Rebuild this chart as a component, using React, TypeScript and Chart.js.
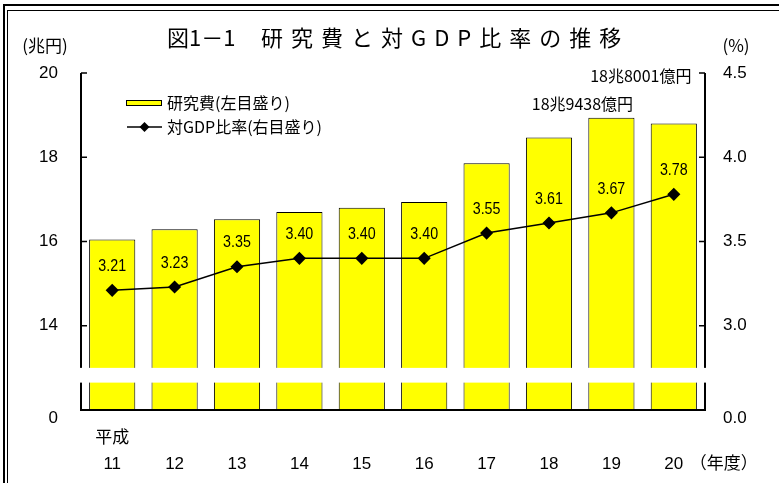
import React, { useEffect, useRef } from 'react';
import { Chart, registerables } from 'chart.js';

Chart.register(...registerables);

// ---- data ----
const categories = ['11', '12', '13', '14', '15', '16', '17', '18', '19', '20'];
const researchCost = [16.05, 16.29, 16.53, 16.7, 16.8, 16.94, 17.86, 18.47, 18.94, 18.8];
const gdpRatio = [3.21, 3.23, 3.35, 3.4, 3.4, 3.4, 3.55, 3.61, 3.67, 3.78];
const leftTicks = [12, 14, 16, 18, 20];
const leftTickLabels = ['0', '14', '16', '18', '20'];
const rightTicks = [2.5, 3.0, 3.5, 4.0, 4.5];
const rightTickLabels = ['0.0', '3.0', '3.5', '4.0', '4.5'];
const breakRange = [12.65, 13.0];
const barLabel = '研究費(左目盛り)';
const lineLabel = '対GDP比率(右目盛り)';
const titleHead = '図1－1';
const titleBody = '研究費と対GDP比率の推移';
const leftUnit = '(兆円)';
const rightUnit = '(%)';
const eraLabel = '平成';
const yearUnit = '（年度）';
const note19 = '18兆9438億円';
const note20 = '18兆8001億円';

const NUM_FONT = "'Liberation Sans', Arial, 'Noto Sans CJK JP', sans-serif";
const JP_FONT = "'Noto Sans CJK JP', 'Noto Sans', sans-serif";

const overlay = {
  id: 'overlay',
  afterDraw(chart: any) {
    const ctx = chart.ctx as CanvasRenderingContext2D;
    const { left, right, top, bottom } = chart.chartArea;
    const yS = chart.scales.y;
    const y1S = chart.scales.y1;
    const xS = chart.scales.x;
    ctx.save();

    // axes lines
    ctx.strokeStyle = '#000';
    ctx.lineWidth = 2;
    ctx.beginPath();
    ctx.moveTo(left, top);
    ctx.lineTo(left, bottom);
    ctx.moveTo(right, top);
    ctx.lineTo(right, bottom);
    ctx.moveTo(left - 1, bottom);
    ctx.lineTo(right + 1, bottom);
    ctx.stroke();

    // inward ticks
    ctx.lineWidth = 1.5;
    ctx.beginPath();
    leftTicks.slice(1).forEach((v) => {
      const p = yS.getPixelForValue(v);
      ctx.moveTo(left, p);
      ctx.lineTo(left + 6, p);
    });
    rightTicks.slice(1).forEach((v) => {
      const p = y1S.getPixelForValue(v);
      ctx.moveTo(right, p);
      ctx.lineTo(right - 6, p);
    });
    ctx.stroke();

    // axis break band
    const bt = yS.getPixelForValue(breakRange[1]);
    const bb = yS.getPixelForValue(breakRange[0]);
    ctx.fillStyle = '#fff';
    ctx.fillRect(left - 4, bt, right - left + 8, bb - bt);

    // value labels above the line points
    const lineMeta = chart.getDatasetMeta(1);
    ctx.fillStyle = '#000';
    ctx.font = `17px ${NUM_FONT}`;
    ctx.textAlign = 'center';
    ctx.textBaseline = 'middle';
    lineMeta.data.forEach((pt: any, i: number) => {
      ctx.save();
      ctx.translate(pt.x, pt.y - 24);
      ctx.scale(0.84, 1);
      ctx.fillText(gdpRatio[i].toFixed(2), 0, 0);
      ctx.restore();
    });

    // notes above bars 19 and 20
    const barMeta = chart.getDatasetMeta(0);
    const b19 = barMeta.data[8];
    const b20 = barMeta.data[9];
    ctx.font = `16px ${JP_FONT}`;
    ctx.textAlign = 'center';
    ctx.fillText(note19, b19.x - 29, b19.y - 14);
    ctx.fillText(note20, b20.x - 33, b20.y - 48);

    // era label and year unit
    ctx.font = `17px ${JP_FONT}`;
    ctx.fillText(eraLabel, xS.getPixelForValue(0), 437);
    ctx.textAlign = 'left';
    ctx.font = `17px ${JP_FONT}`;
    ctx.fillText(yearUnit, xS.getPixelForValue(9) + 16, 463);

    // units
    ctx.textAlign = 'center';
    ctx.font = `17px ${JP_FONT}`;
    ctx.fillText(leftUnit, 45, 46);
    ctx.fillText(rightUnit, 736, 46);

    // title
    ctx.font = `22px ${JP_FONT}`;
    ctx.textAlign = 'left';
    ctx.fillText(titleHead, 167, 38);
    (ctx as any).letterSpacing = '8px';
    ctx.fillText(titleBody, 261, 38);
    (ctx as any).letterSpacing = '0px';

    // legend
    ctx.fillStyle = '#FFFF00';
    ctx.fillRect(126, 100, 36, 6);
    ctx.strokeStyle = '#000';
    ctx.lineWidth = 1;
    ctx.strokeRect(126.5, 100.5, 35, 5);
    ctx.beginPath();
    ctx.lineWidth = 1.5;
    ctx.moveTo(127, 127);
    ctx.lineTo(162, 127);
    ctx.stroke();
    ctx.fillStyle = '#000';
    ctx.beginPath();
    ctx.moveTo(144.5, 122);
    ctx.lineTo(149.5, 127);
    ctx.lineTo(144.5, 132);
    ctx.lineTo(139.5, 127);
    ctx.closePath();
    ctx.fill();
    ctx.font = `16px ${JP_FONT}`;
    ctx.textAlign = 'left';
    ctx.fillText(barLabel, 167, 103);
    ctx.fillText(lineLabel, 167, 127);

    // double frame
    ctx.strokeStyle = '#000';
    ctx.lineWidth = 2;
    ctx.strokeRect(4, 5, 1000, 1000);
    ctx.lineWidth = 1;
    ctx.strokeRect(7.5, 10.5, 1000, 1000);

    ctx.restore();
  },
};

export default function App() {
  const ref = useRef<HTMLCanvasElement>(null);
  useEffect(() => {
    if (!ref.current) return;
    const chart = new Chart(ref.current, {
      type: 'bar',
      data: {
        labels: categories,
        datasets: [
          {
            type: 'bar',
            label: barLabel,
            data: researchCost,
            yAxisID: 'y',
            backgroundColor: '#FFFF00',
            borderColor: '#000',
            borderWidth: 1,
            barPercentage: 0.74,
            categoryPercentage: 1,
            order: 1,
          } as any,
          {
            type: 'line',
            label: lineLabel,
            data: gdpRatio,
            yAxisID: 'y1',
            borderColor: '#000',
            borderWidth: 1.5,
            pointStyle: 'rectRot',
            pointRadius: 5.5,
            pointBackgroundColor: '#000',
            pointBorderColor: '#000',
            tension: 0,
            order: 0,
          } as any,
        ],
      },
      options: {
        responsive: false,
        animation: false,
        devicePixelRatio: 1,
        layout: { padding: { top: 73, left: 0, right: 0, bottom: 0 } },
        plugins: {
          legend: { display: false },
          title: { display: false },
          tooltip: { enabled: false },
        },
        scales: {
          x: {
            grid: { display: false },
            border: { display: false },
            ticks: {
              color: '#000',
              font: { family: NUM_FONT, size: 17, lineHeight: 26 / 17 },
              padding: 7,
              maxRotation: 0,
              autoSkip: false,
              callback: (_v: any, i: number) => ['', categories[i]],
            },
            afterFit: (s: any) => {
              s.height = 73;
            },
          },
          y: {
            position: 'left',
            min: leftTicks[0],
            max: leftTicks[leftTicks.length - 1],
            grid: { display: false, drawTicks: false },
            border: { display: false },
            afterBuildTicks: (s: any) => {
              s.ticks = leftTicks.map((v) => ({ value: v }));
            },
            ticks: {
              color: '#000',
              font: { family: NUM_FONT, size: 17, lineHeight: 16 / 17 },
              padding: 23,
              callback: (v: any) => {
                const i = leftTicks.indexOf(v);
                return i === 0 ? ['', leftTickLabels[i]] : leftTickLabels[i];
              },
            },
            afterFit: (s: any) => {
              s.width = 81;
            },
          },
          y1: {
            position: 'right',
            min: rightTicks[0],
            max: rightTicks[rightTicks.length - 1],
            grid: { display: false, drawTicks: false },
            border: { display: false },
            afterBuildTicks: (s: any) => {
              s.ticks = rightTicks.map((v) => ({ value: v }));
            },
            ticks: {
              color: '#000',
              font: { family: NUM_FONT, size: 17, lineHeight: 16 / 17 },
              padding: 18,
              callback: (v: any) => {
                const i = rightTicks.findIndex((t) => Math.abs(t - v) < 1e-9);
                return i === 0 ? ['', rightTickLabels[i]] : rightTickLabels[i];
              },
            },
            afterFit: (s: any) => {
              s.width = 74;
            },
          },
        },
      },
      plugins: [overlay],
    });
    return () => chart.destroy();
  }, []);

  return (
    <div style={{ position: 'fixed', left: 0, top: 0, width: 779, height: 483, background: '#fff' }}>
      <canvas ref={ref} width={779} height={483} style={{ display: 'block', width: 779, height: 483 }} />
    </div>
  );
}
